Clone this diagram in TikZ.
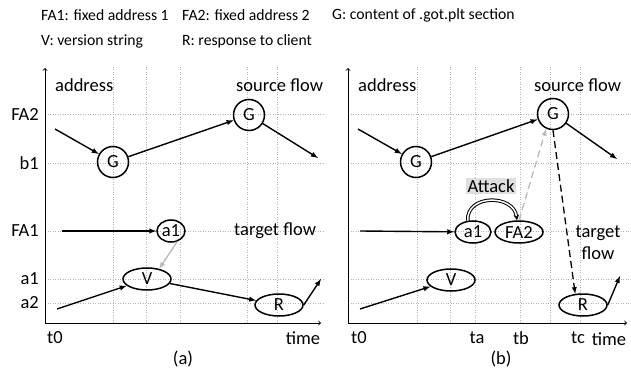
\documentclass[tikz,border=0pt]{standalone}
\usepackage{fontspec}
\setmainfont{Carlito}
\usetikzlibrary{arrows,shapes.geometric}

\begin{document}
\begin{tikzpicture}[x=1pt,y=-1pt]
\tikzstyle{every node}=[inner sep=1pt, font=\fontsize{18.5}{21}\selectfont]
\tikzstyle{keytext}=[anchor=west, font=\fontsize{15.7}{18}\selectfont]
\tikzstyle{gridline}=[dotted, gray!60, line width=0.5pt]
\tikzstyle{axis}=[->, line width=0.9pt]
\tikzstyle{flow}=[-latex, line width=1.4pt]
\tikzstyle{gnode}=[circle, draw, line width=1.5pt, minimum size=31pt, inner sep=0pt]
\tikzstyle{enode}=[ellipse, draw, line width=1.5pt, minimum width=48pt, minimum height=22pt, inner sep=0pt]
\useasboundingbox (0,0) rectangle (631,371);
% legend
\node (k1) [keytext] at (40,15) {FA1: fixed address 1};
\node (k2) [keytext] at (181,15) {FA2: fixed address 2};
\node (k3) [keytext] at (331,15) {G: content of .got.plt section};
\node (k4) [keytext] at (40,41) {V: version string};
\node (k5) [keytext] at (181,41) {R: response to client};
% grid (a)
\foreach \y in {114,163,231,279,303}
  \draw[gridline] (45,\y) -- (325,\y);
\foreach \x in {113,146,180,247,277}
  \draw[gridline] (\x,67) -- (\x,323);
% grid (b)
\foreach \y in {114,163,231,279,303}
  \draw[gridline] (348,\y) -- (630,\y);
\foreach \x in {417,450,475,520,550,580}
  \draw[gridline] (\x,67) -- (\x,323);
% axes (a)
\coordinate (o1) at (45,323);
\coordinate (y1) at (45,68);
\coordinate (x1) at (321,323);
\draw[axis] (o1) -- (y1);
\draw[axis] (o1) -- (x1);
% axes (b)
\coordinate (o2) at (348,323);
\coordinate (y2) at (348,68);
\coordinate (x2) at (627,323);
\draw[axis] (o2) -- (y2);
\draw[axis] (o2) -- (x2);
% axis labels (a)
\node (la1) [anchor=east] at (40,114) {FA2};
\node (la2) [anchor=east] at (40,163) {b1};
\node (la3) [anchor=east] at (40,231) {FA1};
\node (la4) [anchor=east] at (40,279) {a1};
\node (la5) [anchor=east] at (40,303) {a2};
\node (ta0) at (55,338) {t0};
\node (ta9) at (303,338) {time};
\node (addra) [anchor=west] at (54,85) {address};
\node (srca) [anchor=west] at (235,85) {source flow};
\node (tgta) [anchor=west] at (233,231) {target flow};
\node (capa) at (183,359) {(a)};
% axis labels (b)
\node (tb0) at (359,338) {t0};
\node (tb1) at (477,338) {ta};
\node (tb2) at (521,338) {tb};
\node (tb3) at (578,338) {tc};
\node (tb9) at (609,339) {time};
\node (addrb) [anchor=west] at (357,85) {address};
\node (srcb) [anchor=west] at (533,85) {source flow};
\node (tgtb) [align=center, font=\fontsize{18.5}{22}\selectfont] at (598,243) {target\\flow};
\node (capb) at (501,359) {(b)};
% flows (a)
\node (ga1) [gnode] at (113,162) {G};
\node (ga2) [gnode] at (249,115) {G};
\node (aa1) [enode, minimum width=28pt] at (171,231) {a1};
\node (va) [enode] at (147,279) {V};
\node (ra) [enode] at (279,305) {R};
\coordinate (sa0) at (55,129);
\coordinate (sa9) at (318,158);
\coordinate (fa0) at (62,231);
\coordinate (pa0) at (57,309);
\coordinate (pa9) at (321,279);
\draw[flow] (sa0) -- (ga1);
\draw[flow] (ga1) -- (ga2);
\draw[flow] (ga2) -- (sa9);
\draw[flow] (fa0) -- (aa1);
\draw[flow] (pa0) -- (va);
\draw[flow] (va) -- (ra);
\draw[flow] (ra.east) -- (pa9);
\draw[-latex, gray!55, line width=1.3pt] (aa1.-60) -- (va.40);
% flows (b)
\node (gb1) [gnode] at (416,162) {G};
\node (gb2) [gnode] at (553,114) {G};
\node (ab1) [enode, minimum width=36pt] at (473,232) {a1};
\node (fb2) [enode] at (519,232) {FA2};
\node (vb) [enode] at (451,280) {V};
\node (rb) [enode] at (583,305) {R};
\node (atk) [fill=gray!25, inner sep=2pt] at (491,186) {Attack};
\coordinate (sb0) at (358,129);
\coordinate (sb9) at (617,159);
\coordinate (fb0) at (360,231);
\coordinate (pb0) at (360,309);
\coordinate (pb9) at (620,276);
\draw[flow] (sb0) -- (gb1);
\draw[flow] (gb1) -- (gb2);
\draw[flow] (gb2) -- (sb9);
\draw[flow] (fb0) -- (ab1);
\draw[flow] (pb0) -- (vb);
\draw[flow] (rb.east) -- (pb9);
\draw[-latex, gray!55, line width=1.3pt, dash pattern=on 7pt off 4pt] (fb2.north) -- (gb2.-115);
\draw[-latex, line width=1.3pt, dash pattern=on 7pt off 4pt] (gb2.south) -- (rb.125);
\draw[-stealth, double, double distance=1.5pt, line width=1pt] (ab1.115) .. controls (466,194) and (514,194) .. (fb2.100);
\end{tikzpicture}
\end{document}
